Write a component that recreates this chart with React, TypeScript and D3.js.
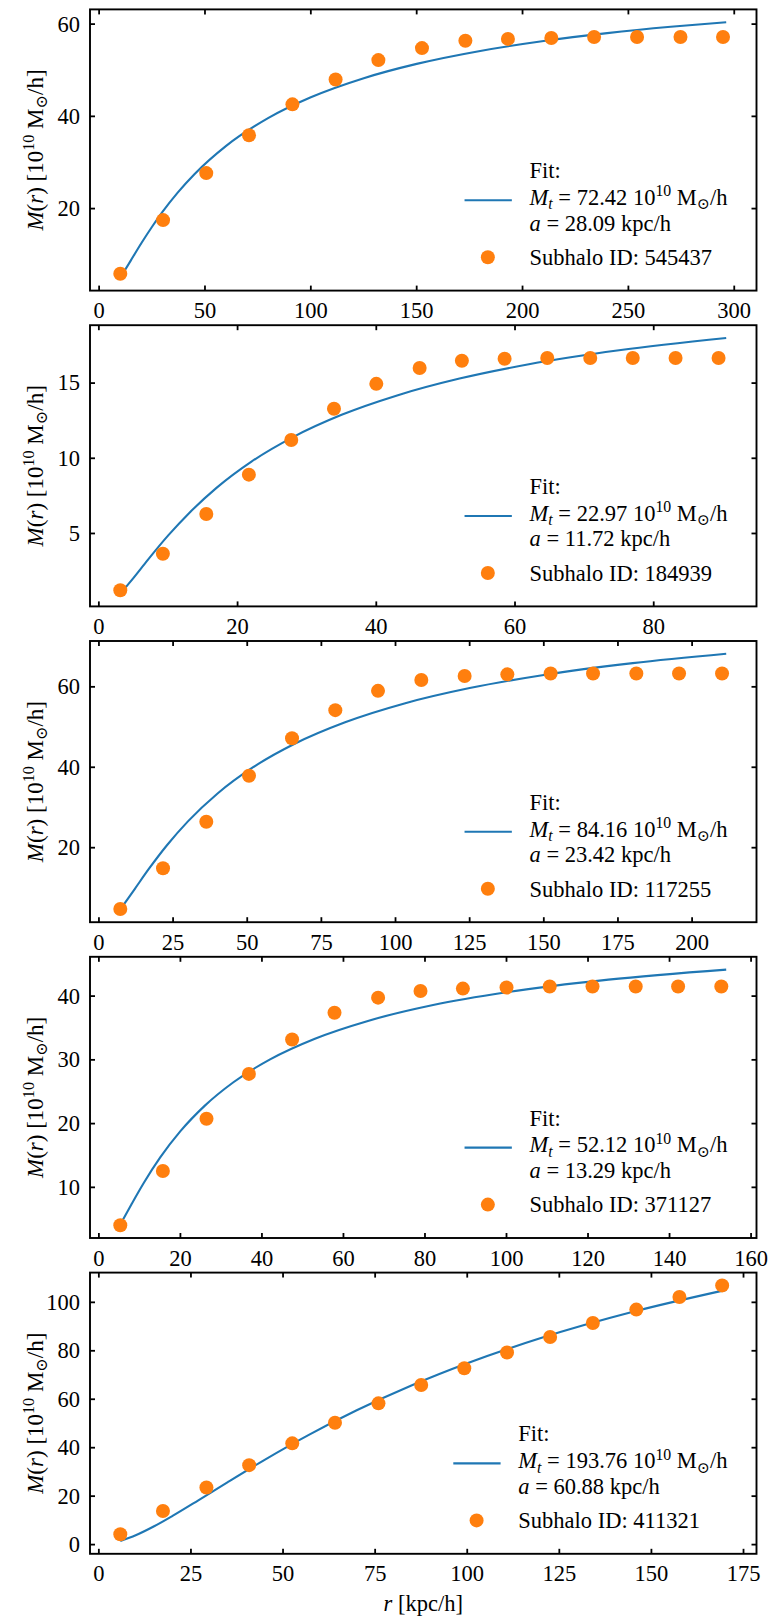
import React, { useEffect, useRef } from "react";
import * as d3 from "d3";

const W = 769;
const H = 1617;

const subhaloIds = ["545437", "184939", "117255", "371127", "411321"];
const fitMt = ["72.42", "22.97", "84.16", "52.12", "193.76"];
const fitA = ["28.09", "11.72", "23.42", "13.29", "60.88"];

// Panel 1
const r1 = [10.0, 30.2, 50.6, 70.8, 91.3, 111.7, 131.9, 152.5, 173.0, 193.1, 213.6, 233.8, 254.1, 274.6, 294.7];
const m1 = [5.87, 17.5, 27.7, 35.9, 42.6, 48.0, 52.2, 54.8, 56.4, 56.8, 57.0, 57.2, 57.2, 57.2, 57.2];
const fitR1 = [10, 15, 20, 25, 30, 37, 45, 60, 80, 100, 125, 150, 180, 210, 240, 270, 296.2];
const fitM1 = [4.99, 8.78, 12.53, 16.06, 19.32, 23.4, 27.45, 33.6, 39.67, 44.14, 48.28, 51.38, 54.19, 56.34, 58.04, 59.42, 60.42];
const xTicks1 = [0, 50, 100, 150, 200, 250, 300];
const yTicks1 = [20, 40, 60];

// Panel 2
const r2 = [3.09, 9.23, 15.49, 21.63, 27.74, 33.9, 40.0, 46.25, 52.34, 58.5, 64.65, 70.85, 76.98, 83.15, 89.35];
const m2 = [1.22, 3.65, 6.29, 8.91, 11.22, 13.29, 14.95, 16.0, 16.49, 16.62, 16.67, 16.67, 16.67, 16.67, 16.67];
const fitR2 = [3.09, 5, 7, 10, 13, 17, 22, 28, 35, 43, 52, 62, 75, 90.45];
const fitM2 = [1.0, 2.05, 3.21, 4.87, 6.35, 8.05, 9.78, 11.41, 12.89, 14.18, 15.3, 16.25, 17.18, 18.0];
const xTicks2 = [0, 20, 40, 60, 80];
const yTicks2 = [5, 10, 15];

// Panel 3
const r3 = [7.2, 21.6, 36.2, 50.6, 65.1, 79.7, 94.1, 108.7, 123.3, 137.7, 152.3, 166.6, 181.2, 195.6, 210.1];
const m3 = [4.77, 14.88, 26.46, 37.9, 47.2, 54.2, 59.0, 61.7, 62.7, 63.1, 63.3, 63.3, 63.3, 63.3, 63.3];
const fitR3 = [7.2, 12, 17, 23, 30, 40, 52, 66, 83, 103, 125, 150, 180, 211.5];
const fitM3 = [4.65, 9.66, 14.89, 20.66, 26.54, 33.48, 40.01, 45.85, 51.19, 55.87, 59.69, 62.96, 65.9, 68.22];
const xTicks3 = [0, 25, 50, 75, 100, 125, 150, 175, 200];
const yTicks3 = [20, 40, 60];

// Panel 4
const r4 = [5.25, 15.7, 26.4, 36.8, 47.4, 57.8, 68.5, 78.9, 89.3, 100.0, 110.6, 121.1, 131.7, 142.1, 152.7];
const m4 = [4.06, 12.57, 20.76, 27.8, 33.2, 37.4, 39.76, 40.8, 41.18, 41.34, 41.5, 41.5, 41.5, 41.5, 41.5];
const fitR4 = [5.25, 8, 11, 15, 20, 26, 33, 42, 53, 66, 82, 100, 125, 153.9];
const fitM4 = [4.18, 7.36, 10.69, 14.65, 18.81, 22.82, 26.49, 30.08, 33.32, 36.11, 38.6, 40.61, 42.58, 44.16];
const xTicks4 = [0, 20, 40, 60, 80, 100, 120, 140, 160];
const yTicks4 = [10, 20, 30, 40];

// Panel 5
const r5 = [5.82, 17.4, 29.2, 40.8, 52.5, 64.1, 75.9, 87.5, 99.2, 110.8, 122.5, 134.1, 145.9, 157.6, 169.2];
const m5 = [4.26, 13.9, 23.6, 32.8, 41.8, 50.3, 58.3, 65.9, 72.8, 79.3, 85.7, 91.5, 97.0, 102.2, 107.0];
const fitR5 = [5.82, 10, 15, 20, 27, 35, 45, 57, 70, 85, 100, 120, 145, 170.3];
const fitM5 = [1.48, 3.86, 7.57, 11.85, 18.29, 25.82, 35.0, 45.3, 55.43, 65.78, 74.86, 85.28, 96.11, 105.15];
const xTicks5 = [0, 25, 50, 75, 100, 125, 150, 175];
const yTicks5 = [0, 20, 40, 60, 80, 100];

const panels = [
  { r: r1, m: m1, fr: fitR1, fm: fitM1, xt: xTicks1, yt: yTicks1 },
  { r: r2, m: m2, fr: fitR2, fm: fitM2, xt: xTicks2, yt: yTicks2 },
  { r: r3, m: m3, fr: fitR3, fm: fitM3, xt: xTicks3, yt: yTicks3 },
  { r: r4, m: m4, fr: fitR4, fm: fitM4, xt: xTicks4, yt: yTicks4 },
  { r: r5, m: m5, fr: fitR5, fm: fitM5, xt: xTicks5, yt: yTicks5 },
];

const BLUE = "#1f77b4";
const ORANGE = "#ff7f0e";
const FONT = "'Liberation Serif', 'Times New Roman', 'DejaVu Serif', serif";
const FS = 22.5;
const FSY = 23;

export default function App() {
  const ref = useRef<SVGSVGElement>(null);

  useEffect(() => {
    const svg = d3.select(ref.current);
    svg.selectAll("*").remove();
    const left = 90;
    const right = 756.5;

    panels.forEach((p, k) => {
      const top = 9.4 + 315.8 * k;
      const bottom = top + 281.2;
      const allX = [...p.r, ...p.fr];
      const allY = [...p.m, ...p.fm];
      const [xa, xb] = d3.extent(allX) as [number, number];
      const [ya, yb] = d3.extent(allY) as [number, number];
      const xp = 0.05 * (xb - xa);
      const yp = 0.05 * (yb - ya);
      const x = d3.scaleLinear().domain([xa - xp, xb + xp]).range([left, right]);
      const y = d3.scaleLinear().domain([ya - yp, yb + yp]).range([bottom, top]);

      const g = svg.append("g");

      const line = d3
        .line<[number, number]>()
        .x((d) => x(d[0]))
        .y((d) => y(d[1]))
        .curve(d3.curveMonotoneX);
      g.append("path")
        .datum(d3.zip(p.fr, p.fm) as [number, number][])
        .attr("d", line)
        .attr("fill", "none")
        .attr("stroke", BLUE)
        .attr("stroke-width", 2.1);

      g.selectAll("circle.pt")
        .data(d3.zip(p.r, p.m))
        .enter()
        .append("circle")
        .attr("class", "pt")
        .attr("cx", (d) => x(d[0]))
        .attr("cy", (d) => y(d[1]))
        .attr("r", 7)
        .attr("fill", ORANGE);

      // ticks (inward, all sides)
      const tl = 5;
      const tw = 1.8;
      p.xt.forEach((t) => {
        const xx = x(t);
        g.append("line").attr("x1", xx).attr("x2", xx).attr("y1", bottom).attr("y2", bottom - tl).attr("stroke", "#000").attr("stroke-width", tw);
        g.append("line").attr("x1", xx).attr("x2", xx).attr("y1", top).attr("y2", top + tl).attr("stroke", "#000").attr("stroke-width", tw);
        g.append("text")
          .attr("x", xx)
          .attr("y", bottom + 27.5)
          .attr("text-anchor", "middle")
          .attr("font-family", FONT)
          .attr("font-size", FS)
          .attr("fill", "#000")
          .text(String(t));
      });
      p.yt.forEach((t) => {
        const yy = y(t);
        g.append("line").attr("x1", left).attr("x2", left + tl).attr("y1", yy).attr("y2", yy).attr("stroke", "#000").attr("stroke-width", tw);
        g.append("line").attr("x1", right).attr("x2", right - tl).attr("y1", yy).attr("y2", yy).attr("stroke", "#000").attr("stroke-width", tw);
        g.append("text")
          .attr("x", left - 10)
          .attr("y", yy + 7.4)
          .attr("text-anchor", "end")
          .attr("font-family", FONT)
          .attr("font-size", FS)
          .attr("fill", "#000")
          .text(String(t));
      });

      g.append("rect")
        .attr("x", left)
        .attr("y", top)
        .attr("width", right - left)
        .attr("height", bottom - top)
        .attr("fill", "none")
        .attr("stroke", "#000")
        .attr("stroke-width", 1.9);

      // y label
      const cy = (top + bottom) / 2;
      const yl = g
        .append("text")
        .attr("transform", `translate(${35 + 7.5},${cy}) rotate(-90)`)
        .attr("text-anchor", "middle")
        .attr("font-family", FONT)
        .attr("font-size", FSY)
        .attr("fill", "#000");
      yl.append("tspan").attr("font-style", "italic").text("M");
      yl.append("tspan").text("(");
      yl.append("tspan").attr("font-style", "italic").text("r");
      yl.append("tspan").text(") [10");
      yl.append("tspan").attr("font-size", FSY * 0.7).attr("dy", -8.5).text("10");
      yl.append("tspan").attr("dy", 8.5).text(" M");
      yl.append("tspan").attr("font-size", FSY * 0.7).attr("dy", 4.5).text("⊙");
      yl.append("tspan").attr("dy", -4.5).text("/h]");

      // legend
      const lg = g.append("g");
      const mk = (yy: number) =>
        lg.append("text").attr("y", yy).attr("font-family", FONT).attr("font-size", FS).attr("fill", "#000");
      const t1 = mk(bottom - 112.4);
      t1.text("Fit:");
      const t2 = mk(bottom - 85.7);
      t2.append("tspan").attr("font-style", "italic").text("M");
      t2.append("tspan").attr("font-style", "italic").attr("font-size", FS * 0.7).attr("dy", 4.5).text("t");
      t2.append("tspan").attr("dy", -4.5).text(` = ${fitMt[k]} 10`);
      t2.append("tspan").attr("font-size", FS * 0.7).attr("dy", -8.5).text("10");
      t2.append("tspan").attr("dy", 8.5).text(" M");
      t2.append("tspan").attr("font-size", FS * 0.7).attr("dy", 4.5).text("⊙");
      t2.append("tspan").attr("dy", -4.5).text("/h");
      const t3 = mk(bottom - 60);
      t3.append("tspan").attr("font-style", "italic").text("a");
      t3.append("tspan").text(` = ${fitA[k]} kpc/h`);
      const t4 = mk(bottom - 25.7);
      t4.text(`Subhalo ID: ${subhaloIds[k]}`);

      const texts = [t1, t2, t3, t4];
      const maxW = d3.max(texts, (t) => (t.node() as SVGTextElement).getComputedTextLength()) || 0;
      const textLeft = right - 29 - maxW;
      texts.forEach((t) => t.attr("x", textLeft));
      lg.append("line")
        .attr("x1", textLeft - 65)
        .attr("x2", textLeft - 17.7)
        .attr("y1", bottom - 90.4)
        .attr("y2", bottom - 90.4)
        .attr("stroke", BLUE)
        .attr("stroke-width", 2.1);
      lg.append("circle")
        .attr("cx", textLeft - 41.7)
        .attr("cy", bottom - 33.4)
        .attr("r", 7)
        .attr("fill", ORANGE);
    });

    const xl = svg
      .append("text")
      .attr("x", (left + right) / 2)
      .attr("y", 1611)
      .attr("text-anchor", "middle")
      .attr("font-family", FONT)
      .attr("font-size", FS)
      .attr("fill", "#000");
    xl.append("tspan").attr("font-style", "italic").text("r");
    xl.append("tspan").text(" [kpc/h]");
  }, []);

  return (
    <svg
      ref={ref}
      width={W}
      height={H}
      style={{ position: "absolute", left: 0, top: 0, background: "#fff" }}
    />
  );
}
